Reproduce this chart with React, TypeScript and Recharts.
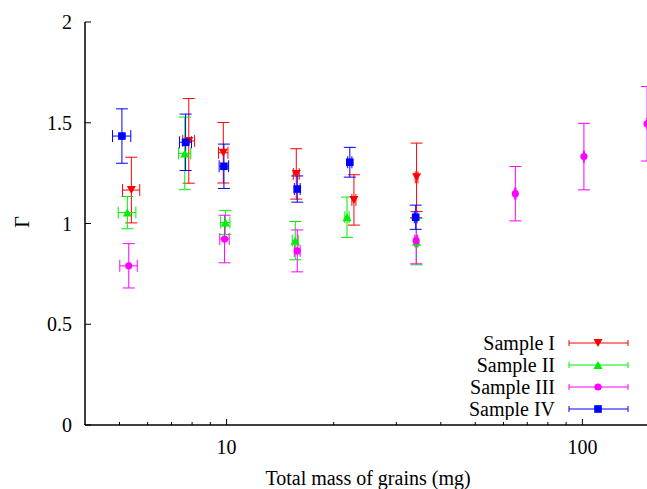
import { ErrorBar, Legend, Scatter, ScatterChart, XAxis, YAxis } from "recharts";

// total mass of grains (mg) and Γ for each sample
const massI = [5.4, 7.83, 9.79, 15.7, 22.8, 34.2];
const gammaI = [1.166, 1.41, 1.351, 1.246, 1.117, 1.229];
const errI = [0.163, 0.21, 0.15, 0.125, 0.125, 0.17];

const massII = [5.26, 7.63, 9.92, 15.6, 21.8, 34.2];
const gammaII = [1.054, 1.348, 1.005, 0.915, 1.031, 0.91];
const errII = [0.08, 0.18, 0.06, 0.095, 0.1, 0.115];

const massIII = [5.31, 9.87, 15.8, 34.1, 64.8, 101, 152];
const gammaIII = [0.79, 0.923, 0.864, 0.915, 1.148, 1.332, 1.495];
const errIII = [0.11, 0.118, 0.104, 0.115, 0.135, 0.165, 0.185];

const massIV = [5.08, 7.67, 9.83, 15.8, 22.2, 34.0];
const gammaIV = [1.434, 1.403, 1.284, 1.171, 1.304, 1.031];
const errIV = [0.135, 0.14, 0.11, 0.065, 0.074, 0.06];

const MASS_ERR = 0.3;

const xTicks = [5, 6, 7, 8, 9, 10, 20, 30, 40, 50, 60, 70, 80, 90, 100];
const xLabels = [10, 100];
const yTicks = [0, 0.5, 1, 1.5, 2];

const FONT = "Times New Roman, Liberation Serif, Tinos, DejaVu Serif, serif";

const toPoints = (xs: number[], ys: number[], es: number[]) =>
  xs.map((x, i) => ({ x, y: ys[i], ex: MASS_ERR, ey: es[i] }));

type Shape = "down" | "up" | "circle" | "square";

const SERIES: { name: string; color: string; shape: Shape; data: any[] }[] = [
  { name: "Sample I", color: "#ff0000", shape: "down", data: toPoints(massI, gammaI, errI) },
  { name: "Sample II", color: "#00ee00", shape: "up", data: toPoints(massII, gammaII, errII) },
  { name: "Sample III", color: "#ff00ff", shape: "circle", data: toPoints(massIII, gammaIII, errIII) },
  { name: "Sample IV", color: "#0000ff", shape: "square", data: toPoints(massIV, gammaIV, errIV) },
];

function marker(shape: Shape, cx: number, cy: number, color: string) {
  if (shape === "down")
    return <polygon points={`${cx - 4.5},${cy - 4} ${cx + 4.5},${cy - 4} ${cx},${cy + 4}`} fill={color} />;
  if (shape === "up")
    return <polygon points={`${cx - 4.5},${cy + 4} ${cx + 4.5},${cy + 4} ${cx},${cy - 4}`} fill={color} />;
  if (shape === "circle") return <circle cx={cx} cy={cy} r={3.6} fill={color} />;
  return <rect x={cx - 3.8} y={cy - 3.8} width={7.6} height={7.6} fill={color} />;
}

const BottomTick = (props: any) => {
  const { x, y, payload } = props;
  const major = xLabels.includes(payload.value);
  return (
    <g>
      <line x1={x} x2={x} y1={y} y2={y - (major ? 6 : 3)} stroke="#000" />
      {major && (
        <text x={x} y={y + 29} textAnchor="middle" style={{ fontFamily: FONT, fontSize: 20 }} fill="#000">
          {payload.value}
        </text>
      )}
    </g>
  );
};

const TopTick = (props: any) => {
  const { x, y, payload } = props;
  const major = xLabels.includes(payload.value);
  return <line x1={x} x2={x} y1={y} y2={y + (major ? 6 : 3)} stroke="#000" />;
};

const LeftTick = (props: any) => {
  const { x, y, payload } = props;
  return (
    <g>
      <line x1={x} x2={x + 6} y1={y} y2={y} stroke="#000" />
      <text x={x - 13} y={y} dy={7} textAnchor="end" style={{ fontFamily: FONT, fontSize: 20 }} fill="#000">
        {payload.value}
      </text>
    </g>
  );
};

const LegendBox = () => (
  <svg width={207} height={90} style={{ display: "block" }}>
    {SERIES.map((s, i) => {
      const cy = 13 + i * 22;
      return (
        <g key={s.name}>
          <text x={115} y={cy} dy={7} textAnchor="end" style={{ fontFamily: FONT, fontSize: 20 }} fill="#000">
            {s.name}
          </text>
          <line x1={129} x2={188} y1={cy} y2={cy} stroke={s.color} />
          <line x1={129} x2={129} y1={cy - 3} y2={cy + 3} stroke={s.color} />
          <line x1={188} x2={188} y1={cy - 3} y2={cy + 3} stroke={s.color} />
          {marker(s.shape, 158, cy, s.color)}
        </g>
      );
    })}
  </svg>
);

export default function App() {
  return (
    <div
      style={{
        position: "absolute",
        left: 0,
        top: 0,
        width: 647,
        height: 489,
        overflow: "hidden",
        background: "#fff",
      }}
    >
      <ScatterChart width={660} height={489} margin={{ top: 22, right: 5, bottom: 0, left: 0 }}>
        <XAxis
          dataKey="x"
          type="number"
          scale="log"
          domain={[4, 160]}
          allowDataOverflow
          ticks={xTicks}
          interval={0}
          tickSize={0}
          tickMargin={0}
          height={64}
          tick={BottomTick}
          axisLine={{ stroke: "#000", strokeWidth: 1.5 }}
          tickLine={false}
          label={{
            content: () => (
              <text x={368} y={485} textAnchor="middle" style={{ fontFamily: FONT, fontSize: 20 }} fill="#000">
                Total mass of grains (mg)
              </text>
            ),
          }}
        />
        <XAxis
          xAxisId="top"
          orientation="top"
          type="number"
          scale="log"
          domain={[4, 160]}
          allowDataOverflow
          ticks={xTicks}
          interval={0}
          tickSize={0}
          tickMargin={0}
          height={0}
          tick={TopTick}
          axisLine={{ stroke: "#000", strokeWidth: 1.5 }}
          tickLine={false}
        />
        <YAxis
          dataKey="y"
          type="number"
          domain={[0, 2]}
          allowDataOverflow
          ticks={yTicks}
          interval={0}
          tickSize={0}
          tickMargin={0}
          width={85}
          tick={LeftTick}
          axisLine={{ stroke: "#000", strokeWidth: 1.5 }}
          tickLine={false}
          label={{
            content: () => (
              <text
                x={22}
                y={222}
                transform="rotate(-90 22 222)"
                textAnchor="middle"
                dominantBaseline="central"
                style={{ fontFamily: FONT, fontSize: 20 }}
                fill="#000"
              >
                Γ
              </text>
            ),
          }}
        />
        {SERIES.map((s) => (
          <Scatter
            key={s.name}
            name={s.name}
            data={s.data}
            fill={s.color}
            isAnimationActive={false}
            shape={(p: any) => marker(s.shape, p.cx, p.cy, s.color)}
          >
            <ErrorBar dataKey="ey" direction="y" width={6} stroke={s.color} strokeWidth={1} isAnimationActive={false} />
            <ErrorBar dataKey="ex" direction="x" width={6} stroke={s.color} strokeWidth={1} isAnimationActive={false} />
          </Scatter>
        ))}
        <Legend
          layout="vertical"
          align="center"
          verticalAlign="middle"
          content={LegendBox}
          wrapperStyle={{ left: 440, top: 330, width: 207, height: 90 }}
        />
      </ScatterChart>
    </div>
  );
}
